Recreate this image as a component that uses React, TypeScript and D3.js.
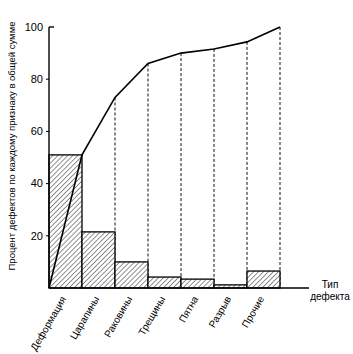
import React, { useEffect, useRef } from "react";
import * as d3 from "d3";

// defect types and their share (%)
const categories = ["Деформация", "Царапины", "Раковины", "Трещины", "Пятна", "Разрыв", "Прочие"];
const shares = [51, 21.5, 10, 4.2, 3.4, 1.2, 6.5];
// cumulative curve as drawn (starts at 0 on the left edge)
const cumulative = [0, 51, 73, 86, 90, 91.6, 94.3, 100];
const yTicks = [20, 40, 60, 80, 100];

const W = 353;
const H = 354;
const FONT = "'Liberation Sans', Arial, sans-serif";

export default function App() {
  const svgRef = useRef<SVGSVGElement>(null);

  useEffect(() => {
    const svg = d3.select(svgRef.current);
    svg.selectAll("*").remove();

    const x = d3.scaleBand<string>().domain(categories).range([49, 280]).padding(0);
    const y = d3.scaleLinear().domain([0, 100]).range([288, 27]);
    const edge = (i: number) => 49 + i * x.step();

    // hatch pattern
    const defs = svg.append("defs");
    const pat = defs
      .append("pattern")
      .attr("id", "hatch")
      .attr("patternUnits", "userSpaceOnUse")
      .attr("width", 3.5)
      .attr("height", 3.5)
      .attr("patternTransform", "rotate(45)");
    pat.append("rect").attr("width", 3.5).attr("height", 3.5).attr("fill", "#fff");
    pat.append("line").attr("x1", 0).attr("y1", 0).attr("x2", 0).attr("y2", 3.5)
      .attr("stroke", "#222").attr("stroke-width", 1);

    // dashed drop lines from the curve
    svg
      .selectAll(".drop")
      .data(cumulative.slice(2))
      .join("line")
      .attr("class", "drop")
      .attr("x1", (d, i) => edge(i + 2))
      .attr("x2", (d, i) => edge(i + 2))
      .attr("y1", d => y(d))
      .attr("y2", y(0))
      .attr("stroke", "#111")
      .attr("stroke-width", 1)
      .attr("stroke-dasharray", "3,2");

    // bars
    svg
      .selectAll(".bar")
      .data(shares)
      .join("rect")
      .attr("class", "bar")
      .attr("x", (d, i) => x(categories[i])!)
      .attr("y", d => y(d))
      .attr("width", x.bandwidth())
      .attr("height", d => y(0) - y(d))
      .attr("fill", "url(#hatch)")
      .attr("stroke", "#000")
      .attr("stroke-width", 1.3);

    // cumulative curve
    const line = d3
      .line<number>()
      .x((d, i) => edge(i))
      .y(d => y(d));
    svg
      .append("path")
      .attr("d", line(cumulative))
      .attr("fill", "none")
      .attr("stroke", "#000")
      .attr("stroke-width", 1.6);

    // axes
    svg.append("line").attr("x1", 49).attr("x2", 49).attr("y1", y(100)).attr("y2", y(0))
      .attr("stroke", "#000").attr("stroke-width", 1.4);
    svg.append("line").attr("x1", 49).attr("x2", 309).attr("y1", y(0)).attr("y2", y(0))
      .attr("stroke", "#000").attr("stroke-width", 1.4);
    svg.append("line").attr("x1", 49).attr("x2", 54).attr("y1", y(100)).attr("y2", y(100))
      .attr("stroke", "#000").attr("stroke-width", 1.4);
    svg
      .selectAll(".tick")
      .data(yTicks.slice(0, 4))
      .join("line")
      .attr("class", "tick")
      .attr("x1", 46)
      .attr("x2", 49)
      .attr("y1", d => y(d))
      .attr("y2", d => y(d))
      .attr("stroke", "#000");

    svg
      .selectAll(".ylab")
      .data(yTicks)
      .join("text")
      .attr("class", "ylab")
      .attr("x", 43)
      .attr("y", d => y(d))
      .attr("dy", "0.35em")
      .attr("text-anchor", "end")
      .attr("font-family", FONT)
      .attr("font-size", 11)
      .text(d => d);

    // category labels
    svg
      .selectAll(".xlab")
      .data(categories)
      .join("text")
      .attr("class", "xlab")
      .attr("transform", d => `translate(${x(d)! + x.bandwidth() / 2 - 2},297) rotate(-60)`)
      .attr("text-anchor", "end")
      .attr("dy", "0.35em")
      .attr("font-family", FONT)
      .attr("font-size", 10)
      .text(d => d);

    // axis titles
    svg
      .append("text")
      .attr("transform", "translate(12,146) rotate(-90)")
      .attr("text-anchor", "middle")
      .attr("dy", "0.35em")
      .attr("font-family", FONT)
      .attr("font-size", 9.5)
      .text("Процент дефектов по каждому признаку в общей сумме");

    const t = svg
      .append("text")
      .attr("text-anchor", "middle")
      .attr("font-family", FONT)
      .attr("font-size", 10);
    t.append("tspan").attr("x", 330).attr("y", 288).text("Тип");
    t.append("tspan").attr("x", 330).attr("y", 300).text("дефекта");
  }, []);

  return (
    <svg
      ref={svgRef}
      width={W}
      height={H}
      style={{ position: "absolute", left: 0, top: 0, background: "#fff" }}
    />
  );
}
